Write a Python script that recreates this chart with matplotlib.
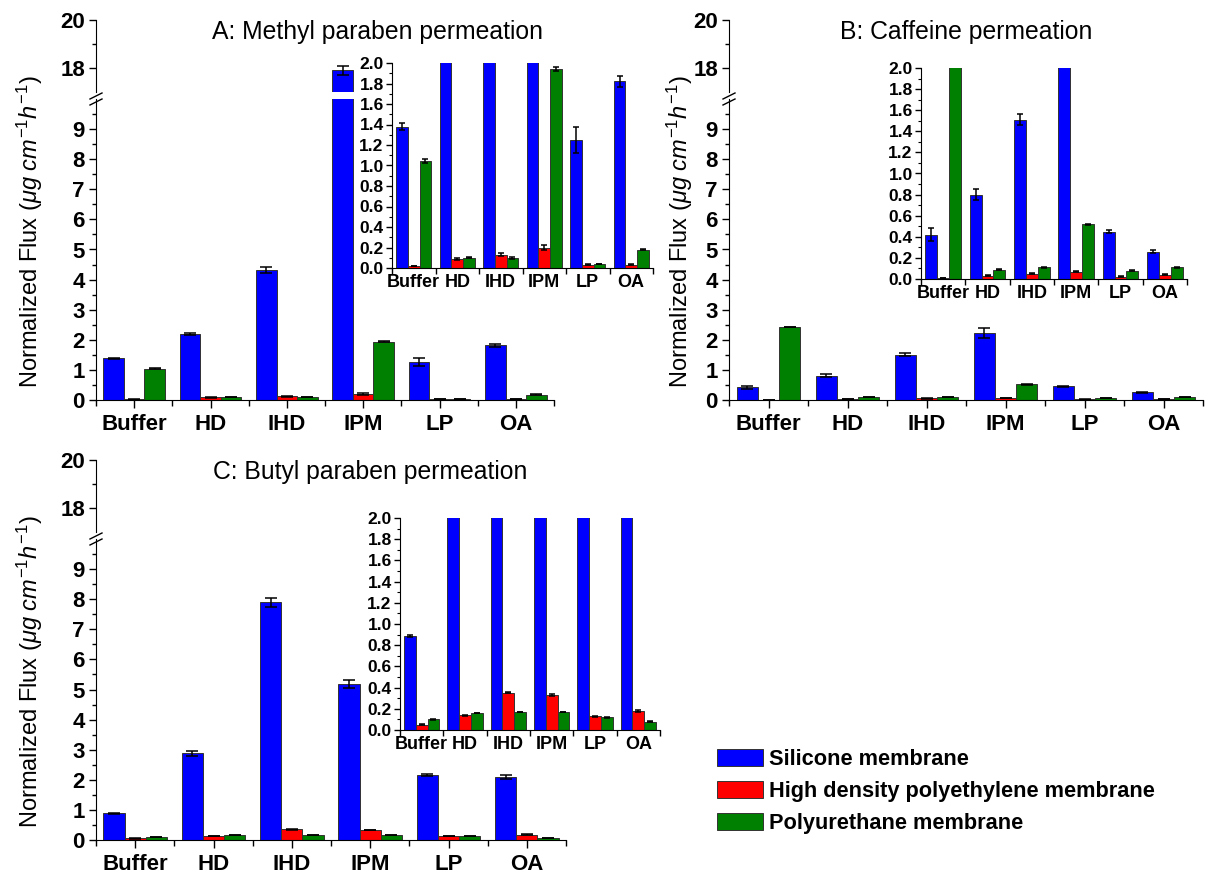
import numpy as np
import matplotlib
matplotlib.use("Agg")
from matplotlib import pyplot as plt
from matplotlib.lines import Line2D
from matplotlib.patches import Patch
from matplotlib.ticker import MultipleLocator, FormatStrFormatter, FixedLocator

plt.rcParams['font.family'] = ['Liberation Sans', 'DejaVu Sans']
plt.rcParams['mathtext.fontset'] = 'custom'
plt.rcParams['mathtext.rm'] = 'Liberation Sans'
plt.rcParams['mathtext.it'] = 'Liberation Sans:italic'

labels = ['Buffer', 'HD', 'IHD', 'IPM', 'LP', 'OA']
series = ['Silicone membrane', 'High density polyethylene membrane', 'Polyurethane membrane']
colors = ['#0000FF', '#FF0000', '#008000']

# A: methyl paraben
a_sil = [1.38, 2.20, 4.33, 17.90, 1.25, 1.82]
a_sil_err = [0.03, 0.04, 0.10, 0.20, 0.13, 0.05]
a_hdpe = [0.02, 0.09, 0.13, 0.20, 0.03, 0.03]
a_hdpe_err = [0.004, 0.008, 0.015, 0.02, 0.005, 0.005]
a_pu = [1.04, 0.10, 0.10, 1.94, 0.04, 0.18]
a_pu_err = [0.02, 0.005, 0.008, 0.02, 0.003, 0.004]

# B: caffeine
b_sil = [0.42, 0.80, 1.51, 2.22, 0.45, 0.26]
b_sil_err = [0.06, 0.05, 0.05, 0.16, 0.015, 0.015]
b_hdpe = [0.01, 0.03, 0.05, 0.07, 0.02, 0.04]
b_hdpe_err = [0.003, 0.004, 0.005, 0.008, 0.004, 0.005]
b_pu = [2.43, 0.09, 0.11, 0.52, 0.08, 0.11]
b_pu_err = [0.01, 0.003, 0.003, 0.006, 0.003, 0.003]

# C: butyl paraben
c_sil = [0.89, 2.88, 7.90, 5.17, 2.15, 2.10]
c_sil_err = [0.01, 0.08, 0.15, 0.13, 0.03, 0.07]
c_hdpe = [0.05, 0.14, 0.35, 0.33, 0.13, 0.18]
c_hdpe_err = [0.005, 0.005, 0.005, 0.012, 0.005, 0.006]
c_pu = [0.10, 0.16, 0.17, 0.17, 0.12, 0.08]
c_pu_err = [0.004, 0.004, 0.003, 0.004, 0.003, 0.003]

W, H = 1210, 875
fig = plt.figure(figsize=(W / 100, H / 100), dpi=100)


def box(x0, x1, y0, y1):
    return [x0 / W, 1 - y1 / H, (x1 - x0) / W, (y1 - y0) / H]


def draw_bars(ax, vals, errs, cap):
    x = np.arange(len(labels))
    w = 0.27
    for k in range(3):
        ax.bar(x + (k - 1) * w, vals[k], w, color=colors[k], edgecolor='#333333',
               linewidth=0.7, yerr=errs[k],
               error_kw=dict(ecolor='black', elinewidth=1.1, capsize=cap, capthick=1.1))
    ax.set_xlim(-0.5, len(labels) - 0.5)


def panel(x0, x1, ytop, title, tx, vals, errs, ibox, ylx):
    up = fig.add_axes(box(x0, x1, ytop, ytop + 72))
    lo = fig.add_axes(box(x0, x1, ytop + 79, ytop + 380))
    for ax in (up, lo):
        draw_bars(ax, vals, errs, 4)
        ax.spines['top'].set_visible(False)
        ax.spines['right'].set_visible(False)
        ax.patch.set_alpha(0)
        ax.tick_params(axis='y', direction='out', length=5, width=1, labelsize=16, pad=3)
        ax.tick_params(axis='y', which='minor', direction='out', length=3, width=1)
    up.set_ylim(17, 20)
    up.yaxis.set_major_locator(FixedLocator([18, 20]))
    up.yaxis.set_minor_locator(FixedLocator([19]))
    up.spines['bottom'].set_visible(False)
    up.set_xticks([])
    for t in up.get_yticklabels():
        t.set_fontweight('bold')
    lo.set_ylim(0, 10)
    lo.yaxis.set_major_locator(FixedLocator(list(range(10))))
    lo.yaxis.set_minor_locator(FixedLocator([i + 0.5 for i in range(10)]))
    lo.set_xticks(np.arange(len(labels)))
    lo.set_xticklabels(labels, fontsize=16, fontweight='bold')
    lo.set_xticks(np.arange(-0.5, len(labels), 1.0), minor=True)
    lo.tick_params(axis='x', direction='out', length=6, width=1, pad=4)
    lo.tick_params(axis='x', which='minor', direction='out', length=4, width=1)
    for t in lo.get_yticklabels():
        t.set_fontweight('bold')

    # break marks on the y axis
    for dy in (0, 6):
        fig.add_artist(Line2D([(x0 - 6) / W, (x0 + 6) / W],
                              [1 - (ytop + 79 + dy) / H, 1 - (ytop + 73 + dy) / H],
                              color='black', lw=1.0))

    fig.text(tx / W, 1 - (ytop + 12) / H, title, fontsize=17.8, ha='center', va='center')
    fig.text(ylx / W, 1 - (ytop + 212) / H,
             r'Normalized Flux ($\mu g\ cm^{-1} h^{-1}$)',
             rotation=90, fontsize=17, ha='center', va='center')

    ins = fig.add_axes(box(*ibox))
    draw_bars(ins, vals, errs, 2.5)
    ins.set_ylim(0, 2.0)
    ins.patch.set_alpha(0)
    ins.spines['top'].set_visible(False)
    ins.spines['right'].set_visible(False)
    ins.yaxis.set_major_locator(MultipleLocator(0.2))
    ins.yaxis.set_minor_locator(MultipleLocator(0.1))
    ins.yaxis.set_major_formatter(FormatStrFormatter('%.1f'))
    ins.tick_params(axis='y', direction='out', length=4, width=1, labelsize=12.5, pad=2)
    ins.tick_params(axis='y', which='minor', direction='out', length=2, width=0.8)
    ins.set_xticks(np.arange(len(labels)))
    ins.set_xticklabels(labels, fontsize=13, fontweight='bold')
    ins.set_xticks(np.arange(-0.5, len(labels), 1.0), minor=True)
    ins.tick_params(axis='x', length=0, pad=4)
    ins.tick_params(axis='x', which='minor', direction='out', length=4, width=1)
    for t in ins.get_yticklabels():
        t.set_fontweight('bold')


panel(96, 554, 20, 'A: Methyl paraben permeation', 378,
      [a_sil, a_hdpe, a_pu], [a_sil_err, a_hdpe_err, a_pu_err],
      (392, 653, 63, 268), 30)
panel(729, 1203, 20, 'B: Caffeine permeation', 966,
      [b_sil, b_hdpe, b_pu], [b_sil_err, b_hdpe_err, b_pu_err],
      (921, 1187, 68, 279), 680)
panel(96, 566, 460, 'C: Butyl paraben permeation', 370,
      [c_sil, c_hdpe, c_pu], [c_sil_err, c_hdpe_err, c_pu_err],
      (400, 660, 518, 730), 30)

handles = [Patch(facecolor=c, edgecolor='#333333', linewidth=0.7) for c in colors]
fig.legend(handles, series, loc='upper left', bbox_to_anchor=(708 / W, 1 - 740 / H),
           frameon=False, prop=dict(weight='bold', size=15.7), handlelength=2.1,
           handleheight=0.85, labelspacing=0.5, handletextpad=0.3, borderaxespad=0)

fig.savefig('out.png', dpi=100)
